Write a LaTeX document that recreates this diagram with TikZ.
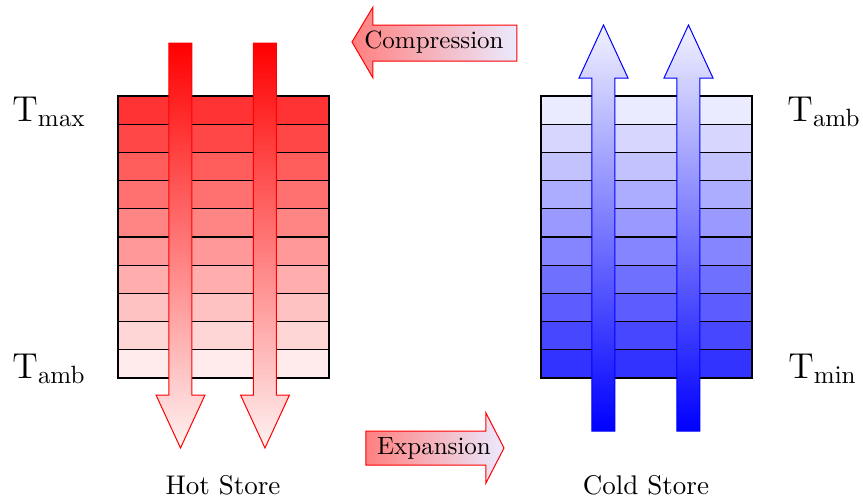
\documentclass[tikz,border=0pt]{standalone}
\usepackage{tikz}
\begin{document}
\begin{tikzpicture}[x=0.4pt,y=-0.4pt,
  cell/.style={draw=black,line width=0.45pt},
  flowarrow/.style={line width=0.4pt},
  lbl/.style={inner sep=0pt,font=\Large},
  storename/.style={inner sep=0pt,anchor=base,font=\fontsize{10.8}{13}\selectfont},
  pumptext/.style={inner sep=0pt}]
\useasboundingbox (0,0) rectangle (863,501);

% hot store layers: hottest at the top
\foreach \i in {0,...,9}{
  \pgfmathsetmacro{\shade}{80-8*\i}
  \filldraw[cell,fill=red!\shade] (118,{96+28.2*\i}) rectangle (329,{96+28.2*(\i+1)});
}
% cold store layers: coldest at the bottom
\foreach \i in {0,...,9}{
  \pgfmathsetmacro{\shade}{8+8*\i}
  \filldraw[cell,fill=blue!\shade] (541,{96+28.2*\i}) rectangle (752,{96+28.2*(\i+1)});
}

% hot flow arrows (downwards)
\foreach \c in {180.5,265}{
  \shade[flowarrow,draw=red,top color=red,bottom color=red!5]
    ({\c-11.5},43) -- ({\c+11.5},43) -- ({\c+11.5},395) -- ({\c+24.5},395)
    -- (\c,448) -- ({\c-24.5},395) -- ({\c-11.5},395) -- cycle;
}
% cold flow arrows (upwards)
\foreach \c in {603.5,688.5}{
  \shade[flowarrow,draw=blue,bottom color=blue,top color=blue!5]
    ({\c-11.5},431) -- ({\c+11.5},431) -- ({\c+11.5},78) -- ({\c+24.5},78)
    -- (\c,25) -- ({\c-24.5},78) -- ({\c-11.5},78) -- cycle;
}

% compression arrow (pointing left)
\shade[flowarrow,draw=red,left color=red!50,right color=blue!8]
  (352,42) -- (373,7) -- (373,25) -- (517,25) -- (517,61) -- (373,61) -- (373,78) -- cycle;
\node[pumptext] (comp) at (434,42) {Compression};

% expansion arrow (pointing right)
\shade[flowarrow,draw=red,left color=red!50,right color=blue!8]
  (366,431) -- (486,431) -- (486,413) -- (504,448) -- (486,483) -- (486,465) -- (366,465) -- cycle;
\node[pumptext] (exp) at (434,448) {Expansion};

% temperature labels
\node[lbl,anchor=base west] (tmax) at (12,121) {$\mathrm{T_{max}}$};
\node[lbl,anchor=base west] (tambh) at (12,378) {$\mathrm{T_{amb}}$};
\node[lbl,anchor=base west] (tambc) at (787,121) {$\mathrm{T_{amb}}$};
\node[lbl,anchor=base west] (tmin) at (788,378) {$\mathrm{T_{min}}$};

% store names
\node[storename] (hot) at (223,494) {Hot Store};
\node[storename] (cold) at (646,494) {Cold Store};
\end{tikzpicture}
\end{document}
